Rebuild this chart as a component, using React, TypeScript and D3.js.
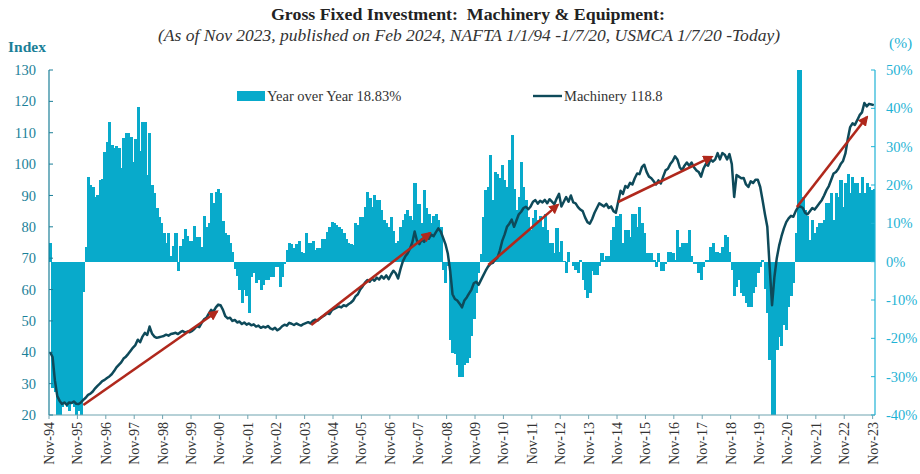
import React from "react";
import * as d3 from "d3";

// ---------- data (monthly, Nov-94 .. Nov-23) ----------
const tickLabels = [
  "Nov-94", "Nov-95", "Nov-96", "Nov-97", "Nov-98", "Nov-99", "Nov-00", "Nov-01",
  "Nov-02", "Nov-03", "Nov-04", "Nov-05", "Nov-06", "Nov-07", "Nov-08", "Nov-09",
  "Nov-10", "Nov-11", "Nov-12", "Nov-13", "Nov-14", "Nov-15", "Nov-16", "Nov-17",
  "Nov-18", "Nov-19", "Nov-20", "Nov-21", "Nov-22", "Nov-23",
];

// Machinery & equipment index (left axis)
const machinery: number[] = [
  40, 38.5, 31, 26, 24.5, 23.5, 24, 23.2, 24, 23.8, 24.3, 23.6,
  23.5, 24, 24.8, 25.5, 26.4, 26.8, 27.5, 28.5, 29.3, 30, 30.8, 31.2,
  31.8, 32.3, 33, 34, 35.2, 36, 36.8, 38, 38.6, 39.5, 40.5, 41.5,
  42.3, 44, 43.2, 45, 46.2, 45.5, 48.2, 46, 45, 44.6, 44.8, 45,
  45.2, 45.6, 45.3, 45.8, 46, 46.2, 45.8, 46.4, 46.8, 46.3, 46.6, 46.4,
  46.8, 47.5, 48.3, 48, 49.4, 50.5, 51, 52.3, 53.5, 53, 54.3, 55.2,
  55, 53.5, 51.5, 50.8, 51, 50, 50.3, 49.5, 49.8, 49, 49.5, 48.8,
  49.2, 48.6, 48.9, 48.2, 48.5, 47.8, 48.2, 47.9, 48.4, 47.6, 47.3, 47.8,
  47, 47.5, 48.3, 48.8, 48.5, 49.4, 49.1, 48.7, 49.2, 48.8, 48.5, 49,
  49.3, 49.6, 49.2, 50, 50.4, 50.1, 50.8, 51.3, 51.8, 52.5, 52.2, 53.4,
  53.8, 54.2, 54.6, 54.3, 55, 54.7, 55.3, 55.8, 56.5, 57.8, 58.5, 60,
  61, 62.2, 63, 62.5, 63.5, 62.8, 63.8, 63.2, 64.3, 63.5, 64.5, 63.3,
  64.8, 66, 65.2, 63.5, 66.5, 69, 70.5, 71.5, 73, 75, 78.5, 75.5,
  74.5, 76, 75.2, 76.8, 76.2, 77.5, 77, 78.3, 79.5, 78.5, 76.5, 74.5,
  71.5, 66, 58.5, 57, 56.5, 55.5, 54.3, 56.5, 57.5, 58.8, 60, 62,
  62.5, 61.5, 63, 64.5, 66, 67.3, 68.2, 68.5, 69.5, 70.2, 72.5, 75.5,
  77.5, 80, 81, 82.3, 80, 82, 84, 84.8, 86, 86.4, 85.6, 86.5,
  88, 88.5, 87.4, 88.3, 87.8, 88.6, 87.5, 88.8, 88, 87.2, 89, 90.5,
  86.5, 88, 89.5, 88, 90, 87.8, 87.5, 86.3, 85.5, 85, 83, 81.5,
  81, 82.5, 84.5, 86, 87.5, 87, 86.5, 87.3, 86, 86.5, 85, 84.5,
  88, 91.5, 90.5, 93, 92.5, 94, 93.5, 95.5, 97, 96.8, 99, 99.8,
  97.5, 96, 95.5, 94.5, 93.5, 94.8, 93.8, 96, 98, 98.5, 100, 101,
  102.5, 101.5, 99, 98, 99.5, 100.5, 99.5, 100.5, 99, 98, 97.5, 96,
  98.5, 100, 99.5, 101.5, 100.8, 101.5, 103.5, 101.5, 103.5, 103, 101.5, 103.2,
  100, 89.5, 96.5, 96, 95.5, 95.6, 93.5, 92.7, 94.5, 94, 95, 95,
  92.7, 88.5, 84, 80, 67, 55, 64, 70, 74, 77, 79.5, 81.5,
  82.7, 83.5, 83.2, 85, 86.3, 86.5, 86, 84.4, 84, 85, 86, 85.5,
  86.5, 87.5, 88.5, 90, 91.7, 93, 95, 97, 97.5, 98.5, 100, 101,
  103.4, 108, 111.8, 113, 112.5, 114, 115.6, 116.5, 119.5, 118.4, 119.2, 119,
  118.8,
];

// Year-over-year change, % (right axis)
const yoy: number[] = [
  5, -33, -34, -40, -40, -38, -37, -38, -39, -37, -38, -40,
  -39, -40, -8, 3.8, 22, 20, 19.5, 17, 17.5, 21.3, 21.5, 28.6,
  31.2, 36.5, 30.4, 29.6, 30.3, 29.6, 24.4, 32.3, 33.6, 33.6, 32.6, 26,
  32, 40.4, 29, 36.5, 36.5, 22.6, 33.6, 20, 18, 14, 11.7, 10,
  7.6, 5, 7.6, 1.5, 4.2, 7.4, -2.5, 4, 6, 8.5, 6.7, 5.5,
  5.5, 9.4, 6.5, 6.4, 3.8, 12, 9, 10, 18, 15.4, 18.3, 19,
  18, 10.5, 7.4, 7, 5, 2.6, -2, -3.8, -7.3, -10.8, -7.4, -9,
  -13.4, -4, -3, -5.5, -4.8, -7.4, -6, -4.8, -4.8, -4, -4, -1.3,
  -1.3, -6.5, -4, -0.5, 3, 4.8, 4.5, 3.5, 4.5, 5.5, 2.6, 2.3,
  7.4, 4.8, 4.8, 5.5, 3, 3.5, 3.5, 6, 6, 7.8, 9, 10.4,
  10, 9.5, 9.1, 8.6, 7.4, 6, 4.8, 4.5, 4.3, 10, 9.6, 11.7,
  11.7, 14.3, 18.2, 16.5, 14.3, 17.4, 16, 16, 13.4, 10.8, 10, 9.1,
  11.7, 8, 4.8, 5.5, 9.1, 11, 12.5, 13.4, 12, 10.8, 20.5, 15,
  15, 10, 18.8, 14, 12.5, 10, 12, 12.5, 10.8, 9.1, -2.2, -5.6,
  -1, -20.4, -23.9, -24, -27, -30, -30, -27, -26.5, -25, -19.5, -15,
  -8.2, -3, 2, 11.7, 18.7, 19.5, 27.9, 16, 23.5, 23, 21.7, 25.2,
  21.3, 19.6, 26.6, 33, 19, 13.5, 17, 26, 19.6, 16, 11.7, 8.3,
  11.5, 13.4, 10.8, 12, 9.1, 12.5, 8.3, 4.9, 4.8, 2.3, 8.8, 2.6,
  5.5, 0.3, -3, 2.6, 0, -1, -2.2, -3, 0.5, -4.8, -7.4, -9.5,
  -8.2, -2.5, -3.5, -3.5, -1, 2.3, 0.5, 1.5, 1.5, 5.7, 9.1, 12,
  12, 12.5, 4.8, 8.3, 8.3, 6.4, 12.5, 12.5, 9.1, 14.3, 10, 7.4,
  2.3, 2.3, 2.3, 0.5, -1.5, 2.3, -2.5, -2.5, -0.5, 2.6, 2.6, 2.3,
  0.5, 8.3, 3.8, 4.8, 4.8, 4.8, 8.3, 1.5, -0.5, -0.5, -3, -4.8,
  -1.3, 0.5, 0.5, 3.8, 4.8, 2.6, 2.6, 2.3, 3.8, 7, 6.4, 2.6,
  -2.2, -9, -6.5, -4.8, -8.2, -9, -10.8, -11.7, -11.7, -8.2, -6.5, -3,
  -1.3, 0.5, -7, -13.4, -25.6, -40, -40, -23, -19.6, -22, -16.5, -17.8,
  -11.7, -9, -5.5, 7.4, 62, 58, 17, 13.5, 12, 5.7, 10.9, 7.4,
  9.1, 10, 10, 10.8, 15.2, 15.2, 17.8, 10.8, 17.8, 17, 21.3, 14.3,
  20.5, 23, 17.8, 22, 20.5, 20.5, 17.8, 22, 17.8, 20.5, 19.5, 18.8,
  18.83,
];

// trend arrows: [startMonth, startIndex, endMonth, endIndex]
const trendArrows: [number, number, number, number][] = [
  [14.5, 23.2, 71, 53],
  [110.8, 48.7, 161, 78],
  [185.6, 67.8, 215, 87],
  [240.4, 87.9, 280, 102.3],
  [316, 86.3, 345.6, 115],
];

const leftTicks = [20, 30, 40, 50, 60, 70, 80, 90, 100, 110, 120, 130];
const rightTicks = [-40, -30, -20, -10, 0, 10, 20, 30, 40, 50];

const titleText = "Gross Fixed Investment:\u00a0 Machinery & Equipment:";
const subtitleText =
  "(As of Nov 2023, published on Feb 2024, NAFTA 1/1/94 -1/7/20, USMCA 1/7/20 -Today)";
const legendBars = "Year over Year 18.83%";
const legendLine = "Machinery 118.8";

// ---------- drawing ----------
const W = 920;
const H = 474;
const L = 49;
const R = 875;
const T = 70;
const B = 415;

const BAR = "#08aacb";
const LINE = "#0e4a5a";
const ARROW = "#b0281c";
const LEFTC = "#1b7f98";
const RIGHTC = "#1fb3d5";
const FONT = "'Liberation Serif', 'Times New Roman', serif";

export default function App() {
  const n = yoy.length;
  const x = d3.scaleLinear().domain([0, n]).range([L, R]);
  const step = x(1) - x(0);
  const yL = d3.scaleLinear().domain([20, 130]).range([B, T]);
  const yR = d3.scaleLinear().domain([-40, 50]).range([B, T]);

  const linePath = d3
    .line<number>()
    .x((_, i) => x(i) + step / 2)
    .y((d) => yL(d))(machinery) as string;

  return (
    <svg
      width={W}
      height={H}
      viewBox={`0 0 ${W} ${H}`}
      style={{ position: "fixed", left: 0, top: 0, background: "#fff" }}
      fontFamily={FONT}
    >
      <defs>
        <clipPath id="plot">
          <rect x={L} y={T} width={R - L} height={B - T} />
        </clipPath>
        <marker
          id="ah"
          viewBox="0 0 10 10"
          refX="8"
          refY="5"
          markerWidth="4"
          markerHeight="4"
          orient="auto"
          markerUnits="strokeWidth"
        >
          <path d="M0,0 L10,5 L0,10 z" fill={ARROW} />
        </marker>
      </defs>

      {/* titles */}
      <text x={468} y={20} textAnchor="middle" fontSize={16.5} fontWeight="bold" fill="#222"
        textLength={394} lengthAdjust="spacingAndGlyphs">
        {titleText}
      </text>
      <text x={469} y={41} textAnchor="middle" fontSize={16.5} fontStyle="italic" fill="#333"
        textLength={622} lengthAdjust="spacingAndGlyphs">
        {subtitleText}
      </text>
      <text x={8} y={52} fontSize={15.5} fontWeight="bold" fill={LEFTC}>Index</text>
      <text x={889} y={48} fontSize={15.5} fill={RIGHTC}>(%)</text>

      {/* bars */}
      <g clipPath="url(#plot)" shapeRendering="crispEdges">
        {yoy.map((v, i) => {
          const y0 = yR(0);
          const y1 = yR(v);
          return (
            <rect
              key={i}
              x={x(i)}
              width={step + 0.7}
              y={Math.min(y0, y1)}
              height={Math.abs(y1 - y0)}
              fill={BAR}
            />
          );
        })}
      </g>

      {/* axes */}
      <line x1={L} x2={L} y1={T} y2={B} stroke={LEFTC} strokeWidth={1.2} />
      <line x1={R} x2={R} y1={T} y2={B} stroke={RIGHTC} strokeWidth={1.2} />
      <line x1={L} x2={R} y1={B} y2={B} stroke="#6fa3b0" strokeWidth={1.2} />
      {leftTicks.map((t) => (
        <g key={`l${t}`}>
          <line x1={L} x2={L + 4} y1={yL(t)} y2={yL(t)} stroke={LEFTC} />
          <text x={36} y={yL(t)} dy="0.35em" textAnchor="end" fontSize={14.5} fill={LEFTC}>
            {t}
          </text>
        </g>
      ))}
      {rightTicks.map((t) => (
        <g key={`r${t}`}>
          <line x1={R - 4} x2={R} y1={yR(t)} y2={yR(t)} stroke={RIGHTC} />
          <text x={886} y={yR(t)} dy="0.35em" textAnchor="start" fontSize={14.5} fill={RIGHTC}>
            {`${t}%`}
          </text>
        </g>
      ))}
      {tickLabels.map((lab, k) => {
        const tx = x(k * 12);
        return (
          <g key={lab}>
            <line x1={tx} x2={tx} y1={B} y2={B + 4} stroke="#6fa3b0" />
            <text
              transform={`translate(${tx},${B + 7}) rotate(-90)`}
              dy="0.35em"
              textAnchor="end"
              fontSize={14}
              fill="#333"
            >
              {lab}
            </text>
          </g>
        );
      })}

      {/* machinery line */}
      <path d={linePath} fill="none" stroke={LINE} strokeWidth={2.5} strokeLinejoin="round" />

      {/* trend arrows */}
      {trendArrows.map((a, i) => (
        <line
          key={i}
          x1={x(a[0])}
          y1={yL(a[1])}
          x2={x(a[2])}
          y2={yL(a[3])}
          stroke={ARROW}
          strokeWidth={2.6}
          markerEnd="url(#ah)"
        />
      ))}

      {/* legend */}
      <rect x={237} y={91} width={28} height={10} fill={BAR} />
      <text x={267} y={101} fontSize={14.5} fill="#333">{legendBars}</text>
      <line x1={533} x2={562} y1={96} y2={96} stroke={LINE} strokeWidth={2.4} />
      <text x={564} y={101} fontSize={14.5} fill="#333">{legendLine}</text>
    </svg>
  );
}
